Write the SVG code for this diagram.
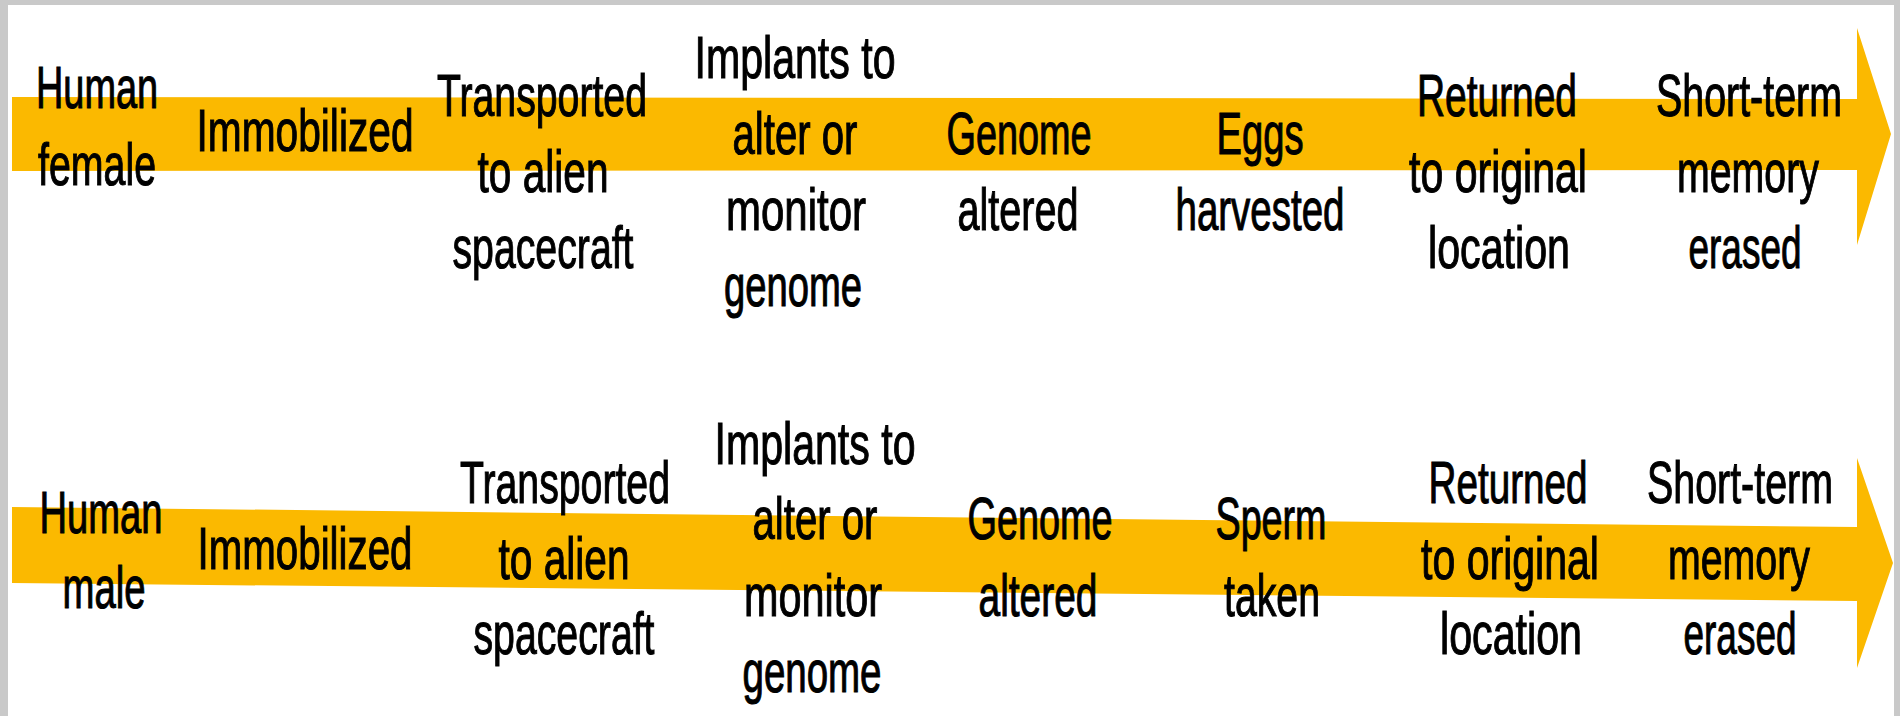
<svg xmlns="http://www.w3.org/2000/svg" width="1900" height="716" viewBox="0 0 1900 716">
<style>
.frame{fill:#c9c9c9}
.bg{fill:#ffffff}
.arrow{fill:#fbb900}
text{font-family:"Liberation Sans",Arial,sans-serif;font-size:59px;fill:#000;stroke:#000;stroke-width:1.1px;text-anchor:middle}
</style>
<rect class="frame" x="0" y="0" width="1900" height="716"/>
<rect class="bg" x="8" y="5" width="1886" height="711"/>
<g id="connectors">
<polygon id="arrow-female" class="arrow" points="12,97 1857,99 1857,28 1891,134 1857,245 1857,170 12,171"/>
<polygon id="arrow-male" class="arrow" points="12,507 1857,527 1857,458 1893,563 1857,668 1857,601 12,583"/>
</g>
<g id="row-female">
<g id="f-human"><text x="97" y="108" textLength="122" lengthAdjust="spacingAndGlyphs">Human</text><text x="97" y="185" textLength="118" lengthAdjust="spacingAndGlyphs">female</text></g>
<g id="f-immobilized"><text x="305" y="151" textLength="217" lengthAdjust="spacingAndGlyphs">Immobilized</text></g>
<g id="f-transported"><text x="542" y="116" textLength="210" lengthAdjust="spacingAndGlyphs">Transported</text><text x="543" y="192" textLength="131" lengthAdjust="spacingAndGlyphs">to alien</text><text x="543" y="268" textLength="181" lengthAdjust="spacingAndGlyphs">spacecraft</text></g>
<g id="f-implants"><text x="795" y="78" textLength="201" lengthAdjust="spacingAndGlyphs">Implants to</text><text x="795" y="154" textLength="125" lengthAdjust="spacingAndGlyphs">alter or</text><text x="796" y="230" textLength="140" lengthAdjust="spacingAndGlyphs">monitor</text><text x="793" y="306" textLength="138" lengthAdjust="spacingAndGlyphs">genome</text></g>
<g id="f-genome"><text x="1019" y="154" textLength="145" lengthAdjust="spacingAndGlyphs">Genome</text><text x="1018" y="230" textLength="121" lengthAdjust="spacingAndGlyphs">altered</text></g>
<g id="f-eggs"><text x="1260" y="154" textLength="87" lengthAdjust="spacingAndGlyphs">Eggs</text><text x="1260" y="230" textLength="169" lengthAdjust="spacingAndGlyphs">harvested</text></g>
<g id="f-returned"><text x="1497" y="116" textLength="160" lengthAdjust="spacingAndGlyphs">Returned</text><text x="1498" y="192" textLength="178" lengthAdjust="spacingAndGlyphs">to original</text><text x="1499" y="268" textLength="142" lengthAdjust="spacingAndGlyphs">location</text></g>
<g id="f-memory"><text x="1749" y="116" textLength="186" lengthAdjust="spacingAndGlyphs">Short-term</text><text x="1748" y="192" textLength="142" lengthAdjust="spacingAndGlyphs">memory</text><text x="1745" y="268" textLength="113" lengthAdjust="spacingAndGlyphs">erased</text></g>
</g>
<g id="row-male">
<g id="m-human"><text x="101" y="533" textLength="123" lengthAdjust="spacingAndGlyphs">Human</text><text x="104" y="608" textLength="83" lengthAdjust="spacingAndGlyphs">male</text></g>
<g id="m-immobilized"><text x="305" y="569" textLength="215" lengthAdjust="spacingAndGlyphs">Immobilized</text></g>
<g id="m-transported"><text x="565" y="503" textLength="210" lengthAdjust="spacingAndGlyphs">Transported</text><text x="564" y="579" textLength="131" lengthAdjust="spacingAndGlyphs">to alien</text><text x="564" y="654" textLength="181" lengthAdjust="spacingAndGlyphs">spacecraft</text></g>
<g id="m-implants"><text x="815" y="464" textLength="201" lengthAdjust="spacingAndGlyphs">Implants to</text><text x="815" y="539" textLength="125" lengthAdjust="spacingAndGlyphs">alter or</text><text x="813" y="616" textLength="138" lengthAdjust="spacingAndGlyphs">monitor</text><text x="812" y="692" textLength="139" lengthAdjust="spacingAndGlyphs">genome</text></g>
<g id="m-genome"><text x="1040" y="539" textLength="145" lengthAdjust="spacingAndGlyphs">Genome</text><text x="1038" y="616" textLength="119" lengthAdjust="spacingAndGlyphs">altered</text></g>
<g id="m-sperm"><text x="1271" y="539" textLength="111" lengthAdjust="spacingAndGlyphs">Sperm</text><text x="1272" y="616" textLength="96" lengthAdjust="spacingAndGlyphs">taken</text></g>
<g id="m-returned"><text x="1508" y="503" textLength="159" lengthAdjust="spacingAndGlyphs">Returned</text><text x="1510" y="579" textLength="178" lengthAdjust="spacingAndGlyphs">to original</text><text x="1511" y="654" textLength="142" lengthAdjust="spacingAndGlyphs">location</text></g>
<g id="m-memory"><text x="1740" y="503" textLength="186" lengthAdjust="spacingAndGlyphs">Short-term</text><text x="1739" y="579" textLength="142" lengthAdjust="spacingAndGlyphs">memory</text><text x="1740" y="654" textLength="113" lengthAdjust="spacingAndGlyphs">erased</text></g>
</g>
</svg>
